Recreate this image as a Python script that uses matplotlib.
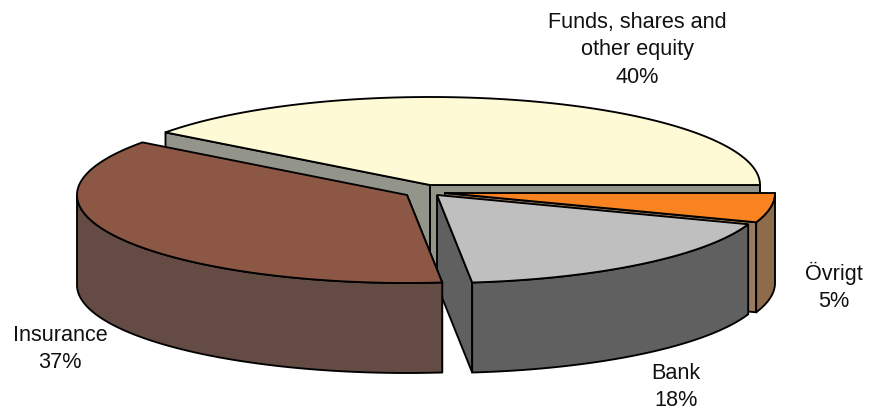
import numpy as np
import matplotlib
matplotlib.use("Agg")
import matplotlib.pyplot as plt

# slices in drawing order, counter clockwise from the right hand side
names = ["Funds, shares and\nother equity", "Insurance", "Bank", "Övrigt"]
shares = [39.8, 36.9, 17.9, 5.4]

top_colors = ["#FFFAD6", "#8D5745", "#BFBFBF", "#F98221"]
side_colors = ["#93948A", "#644C45", "#606060", "#8E6C4B"]
wall_colors = ["#93948A", "#644C45", "#606060", "#9A7B5F"]
apexes = [(430, 186), (407, 196), (437, 196), (445, 194)]
label_pos = [(637, 50), (60, 349), (676, 387), (834, 287)]
# which cut faces can be seen: 0 = first edge of the slice, -1 = last edge
visible_walls = [(0, -1), (-1,), (0,), (0,)]
RX, RY, DEPTH = 330, 88, 90
LW = 1.35

edges = np.concatenate([[0], np.cumsum(shares)]) * 3.6


def draw_slice(ax, i):
    t = np.radians(np.linspace(edges[i], edges[i + 1], 200))
    cx, cy = apexes[i]
    x = cx + RX * np.cos(t)
    y = cy - RY * np.sin(t)
    for k in visible_walls[i]:
        ax.fill([cx, x[k], x[k], cx], [cy, y[k], y[k] + DEPTH, cy + DEPTH],
                facecolor=wall_colors[i], edgecolor="black", linewidth=LW)
    # outer wall, only the part facing the viewer
    front = np.sin(t) <= 0
    if front.any():
        fx, fy = x[front], y[front]
        ax.fill(np.r_[fx, fx[::-1]], np.r_[fy, fy[::-1] + DEPTH],
                facecolor=side_colors[i], edgecolor="black", linewidth=LW)
    ax.fill(np.r_[cx, x], np.r_[cy, y], facecolor=top_colors[i],
            edgecolor="black", linewidth=LW)


fig = plt.figure(figsize=(8.72, 4.10), dpi=100)
ax = fig.add_axes([0, 0, 1, 1])
ax.set_xlim(0, 872)
ax.set_ylim(410, 0)
ax.axis("off")

for i in [0, 3, 2, 1]:
    draw_slice(ax, i)

for i, name in enumerate(names):
    ax.text(label_pos[i][0], label_pos[i][1], f"{name}\n{round(shares[i])}%",
            ha="center", va="center", fontsize=15.6, color="#111111",
            family="Liberation Sans", linespacing=1.39)

fig.savefig("out.png", dpi=100)
